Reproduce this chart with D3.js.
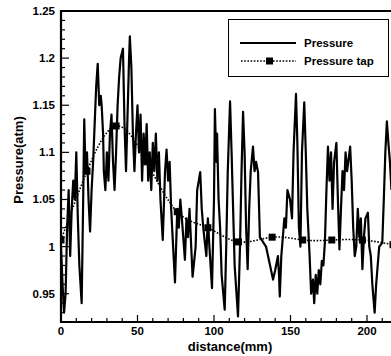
<!DOCTYPE html>
<html><head><meta charset="utf-8">
<script src="https://cdn.jsdelivr.net/npm/d3@7"></script>
<style>body{margin:0;background:#fff}svg{display:block}text{font-family:"Liberation Sans",Arial,sans-serif;font-weight:bold;fill:#000}</style>
</head><body><svg id="c" width="391" height="356"></svg>
<script>
const pressureX = [0,1,2,3,4,5,6,7,8,9,10,11,12,13.5,14.5,15.2,16,17,18,19,20,21,22,23,24,25,26,26.6,27.5,28,29,30,31,32,33,34,35,36,37,38,39,40.5,41.5,42.5,43.5,44.5,45,46,47,48,49,50,51,52,53,54,55,56,57,58,59,60,61,62,63,64,65,66.5,68,69,70,71,72,74.5,76,77,78,79,81,82,83,84,86,88,89,91,92,93,95,96,97,98.7,100,100.6,101.5,102,103,104,105,107,108,109,110.5,111.5,112.5,113.5,115.7,117,118,119,120,121,122,123,124,125.5,126.5,127.5,128.8,130,132,134,136,138.6,140,141.8,142.5,143,144,146,147,148,149.7,151,152,153.6,154.5,155.5,156.5,157.5,159,160,161,162.5,163.5,164.7,165.5,166.5,167.5,168.5,169.5,170.5,171.5,172.5,173.5,174.5,175.5,176.5,177.5,178.5,180,181,182,183,184,185,186,187,189,190,191,192,193,194,195,196,197,198,199,200.6,201.5,202.5,203.5,205,206,207,208,210,211,212,213,214,215,216];
const pressureY = [1.00,0.96,0.93,0.95,1.02,1.06,0.99,1.04,1.07,1.05,1.10,1.03,0.98,0.94,1.05,1.135,1.08,1.10,1.05,1.016,1.06,1.09,1.13,1.17,1.194,1.15,1.16,1.149,1.12,1.08,1.06,1.10,1.07,1.12,1.14,1.09,1.06,1.10,1.15,1.18,1.20,1.21,1.13,1.08,1.14,1.20,1.223,1.19,1.12,1.08,1.12,1.15,1.10,1.14,1.07,1.12,1.09,1.13,1.07,1.10,1.06,1.11,1.08,1.12,1.07,1.10,1.05,1.007,1.08,1.103,1.07,1.09,1.04,0.962,1.04,1.02,1.05,1.03,0.986,1.03,1.01,1.04,0.968,1.00,1.06,1.079,1.04,1.02,0.99,1.03,1.00,0.956,1.05,1.146,1.09,1.12,1.05,1.02,0.97,0.933,1.00,1.08,1.154,1.10,1.04,0.98,0.926,1.00,1.08,1.143,1.10,1.02,0.976,1.04,1.08,1.106,1.08,1.09,1.079,1.01,1.005,1.00,0.985,0.965,0.975,0.99,0.97,0.947,0.99,1.03,1.02,1.06,1.05,1.03,1.10,1.162,1.11,1.02,1.00,1.10,1.153,1.10,1.04,0.99,0.95,0.965,0.94,0.97,0.95,0.975,0.96,0.985,0.98,1.005,1.06,1.106,1.07,1.10,1.04,1.09,1.11,1.05,0.997,1.04,1.08,1.06,1.10,1.08,1.106,1.07,1.02,0.99,1.00,1.04,1.01,1.03,0.976,1.01,1.03,1.036,1.00,0.99,0.96,0.93,0.96,0.98,1.00,1.004,1.05,1.10,1.133,1.11,1.09,1.06];
const tapX = [0,17,36,56,76,96,116,138,158,177,197,217];
const tapY = [1.007,1.08,1.128,1.09,1.037,1.02,1.005,1.01,1.007,1.007,1.007,1.002];
const xTicks = [0,50,100,150,200];
const yTicks = [0.95,1,1.05,1.1,1.15,1.2,1.25];
const yTickLabels = ["0.95","1","1.05","1.1","1.15","1.2","1.25"];
const seriesNames = ["Pressure","Pressure tap"];

const svg = d3.select("#c");
const L=61,R=391,T=11,B=322;
const x = d3.scaleLinear().domain([0,215.7]).range([L,R]);
const y = d3.scaleLinear().domain([0.92,1.25]).range([B,T]);

svg.append("clipPath").attr("id","clip").append("rect").attr("x",L).attr("y",T).attr("width",R-L).attr("height",B-T);
const g = svg.append("g").attr("clip-path","url(#clip)");

const pData = pressureX.map((d,i)=>[d,pressureY[i]]);
g.append("path").datum(pData).attr("fill","none").attr("stroke","#000").attr("stroke-width",2.2).attr("stroke-linejoin","round")
 .attr("d", d3.line().x(d=>x(d[0])).y(d=>y(d[1])));

const tData = tapX.map((d,i)=>[d,tapY[i]]);
g.append("path").datum(tData).attr("fill","none").attr("stroke","#000").attr("stroke-width",1.6).attr("stroke-dasharray","1.6,1.6")
 .attr("d", d3.line().curve(d3.curveNatural).x(d=>x(d[0])).y(d=>y(d[1])));
g.selectAll("rect.tap").data(tData).enter().append("rect").attr("class","tap")
 .attr("x",d=>x(d[0])-3.5).attr("y",d=>y(d[1])-3.5).attr("width",7).attr("height",7).attr("fill","#000");

// axes
const ax = svg.append("g");
d3.range(0,216,10).forEach(v=>{
  const major = v%50===0;
  ax.append("line").attr("x1",x(v)).attr("x2",x(v)).attr("y1",B).attr("y2",B-(major?7:4)).attr("stroke","#000").attr("stroke-width",1.2);
});
d3.range(92,126,1).forEach(k=>{
  const v=k/100; const major = k%5===0;
  ax.append("line").attr("x1",L).attr("x2",L+(major?8:4)).attr("y1",y(v)).attr("y2",y(v)).attr("stroke","#000").attr("stroke-width",1.2);
});
ax.append("line").attr("x1",L).attr("x2",L).attr("y1",T-1).attr("y2",B+1).attr("stroke","#000").attr("stroke-width",2.2);
ax.append("line").attr("x1",L-1).attr("x2",R).attr("y1",B).attr("y2",B).attr("stroke","#000").attr("stroke-width",2.2);
ax.append("line").attr("x1",L-1).attr("x2",R).attr("y1",T).attr("y2",T).attr("stroke","#000").attr("stroke-width",2.2);

xTicks.forEach(v=>{
  ax.append("text").attr("x",x(v)).attr("y",B+13).attr("text-anchor","middle").attr("font-size",11.5).text(v);
});
yTicks.forEach((v,i)=>{
  ax.append("text").attr("x",L-6).attr("y",y(v)+4).attr("text-anchor","end").attr("font-size",11.5).text(yTickLabels[i]);
});
svg.append("text").attr("x",230).attr("y",351).attr("text-anchor","middle").attr("font-size",13).text("distance(mm)");
svg.append("text").attr("transform","translate(23,160) rotate(-90)").attr("text-anchor","middle").attr("font-size",13).text("Pressure(atm)");

// legend
const lg = svg.append("g");
lg.append("rect").attr("x",228.5).attr("y",19.5).attr("width",160).attr("height",57).attr("fill","#fff").attr("stroke","#000").attr("stroke-width",1);
lg.append("line").attr("x1",240).attr("x2",296).attr("y1",43).attr("y2",43).attr("stroke","#000").attr("stroke-width",2);
lg.append("line").attr("x1",241).attr("x2",296).attr("y1",61).attr("y2",61).attr("stroke","#000").attr("stroke-width",1.6).attr("stroke-dasharray","1.6,1.6");
lg.append("rect").attr("x",266).attr("y",57.5).attr("width",7).attr("height",7).attr("fill","#000");
lg.append("text").attr("x",304).attr("y",47).attr("font-size",11.5).text(seriesNames[0]);
lg.append("text").attr("x",304).attr("y",65).attr("font-size",11.5).text(seriesNames[1]);
</script></body></html>
